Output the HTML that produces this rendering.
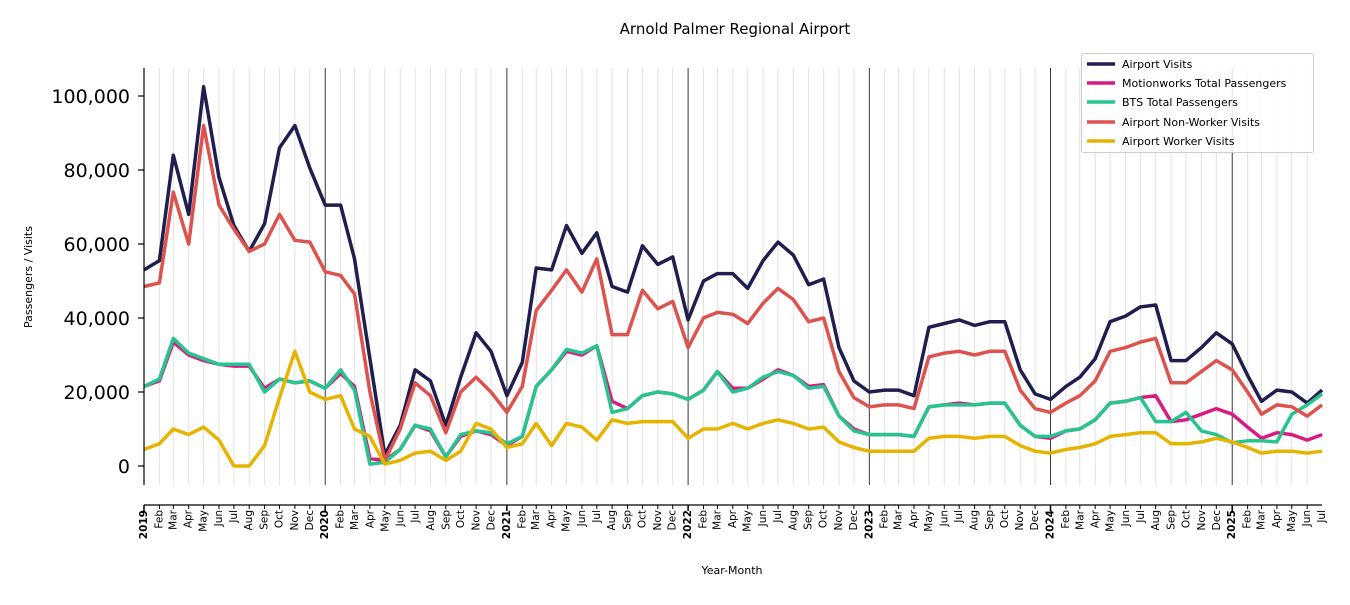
<!DOCTYPE html>
<html><head><meta charset="utf-8"><style>
body{margin:0;background:#fff;width:1350px;height:600px;overflow:hidden;font-family:"Liberation Sans","DejaVu Sans",sans-serif}
svg text{font-family:"DejaVu Sans","Liberation Sans",sans-serif}
.m{font-size:10.5px}
.y{font-size:10.5px;font-weight:bold}
</style></head><body>
<svg id="s" width="1350" height="600" viewBox="0 0 1350 600" xmlns="http://www.w3.org/2000/svg">
<g id="grid"></g>
<g id="lines" fill="none" stroke-width="3.5" stroke-linejoin="round"></g>
<text x="735" y="34" text-anchor="middle" font-size="15">Arnold Palmer Regional Airport</text>
<text transform="translate(32,277) rotate(-90)" text-anchor="middle" font-size="11">Passengers / Visits</text>
<text x="732" y="574" text-anchor="middle" font-size="11">Year-Month</text>
<line x1="144" y1="68" x2="144" y2="485" stroke="#000" stroke-width="1.2"/>
<line x1="144" y1="505" x2="1322" y2="505" stroke="#000" stroke-width="1.2"/>
<g font-size="19" text-anchor="end">
<text x="130" y="473">0</text><text x="130" y="399">20,000</text><text x="130" y="325">40,000</text><text x="130" y="251">60,000</text><text x="130" y="177">80,000</text><text x="130" y="103">100,000</text>
</g>
<g stroke="#000" stroke-width="1.2">
<line x1="138" y1="466" x2="144" y2="466"/><line x1="138" y1="392" x2="144" y2="392"/><line x1="138" y1="318" x2="144" y2="318"/><line x1="138" y1="244" x2="144" y2="244"/><line x1="138" y1="170" x2="144" y2="170"/><line x1="138" y1="96" x2="144" y2="96"/>
</g>
<g id="ticks" stroke="#000"></g>
<g text-anchor="end" dominant-baseline="middle">
<text class="y" transform="translate(144,510) rotate(-90)">2019</text><text class="m" transform="translate(159.4,510) rotate(-90)">Feb</text><text class="m" transform="translate(173.3,510) rotate(-90)">Mar</text><text class="m" transform="translate(188.7,510) rotate(-90)">Apr</text><text class="m" transform="translate(203.6,510) rotate(-90)">May</text><text class="m" transform="translate(219,510) rotate(-90)">Jun</text><text class="m" transform="translate(233.9,510) rotate(-90)">Jul</text><text class="m" transform="translate(249.2,510) rotate(-90)">Aug</text><text class="m" transform="translate(264.6,510) rotate(-90)">Sep</text><text class="m" transform="translate(279.5,510) rotate(-90)">Oct</text><text class="m" transform="translate(294.9,510) rotate(-90)">Nov</text><text class="m" transform="translate(309.8,510) rotate(-90)">Dec</text>
<text class="y" transform="translate(325.2,510) rotate(-90)">2020</text><text class="m" transform="translate(340.6,510) rotate(-90)">Feb</text><text class="m" transform="translate(355,510) rotate(-90)">Mar</text><text class="m" transform="translate(370.4,510) rotate(-90)">Apr</text><text class="m" transform="translate(385.3,510) rotate(-90)">May</text><text class="m" transform="translate(400.7,510) rotate(-90)">Jun</text><text class="m" transform="translate(415.6,510) rotate(-90)">Jul</text><text class="m" transform="translate(430.9,510) rotate(-90)">Aug</text><text class="m" transform="translate(446.3,510) rotate(-90)">Sep</text><text class="m" transform="translate(461.2,510) rotate(-90)">Oct</text><text class="m" transform="translate(476.6,510) rotate(-90)">Nov</text><text class="m" transform="translate(491.5,510) rotate(-90)">Dec</text>
<text class="y" transform="translate(506.9,510) rotate(-90)">2021</text><text class="m" transform="translate(522.3,510) rotate(-90)">Feb</text><text class="m" transform="translate(536.2,510) rotate(-90)">Mar</text><text class="m" transform="translate(551.6,510) rotate(-90)">Apr</text><text class="m" transform="translate(566.5,510) rotate(-90)">May</text><text class="m" transform="translate(581.9,510) rotate(-90)">Jun</text><text class="m" transform="translate(596.8,510) rotate(-90)">Jul</text><text class="m" transform="translate(612.1,510) rotate(-90)">Aug</text><text class="m" transform="translate(627.5,510) rotate(-90)">Sep</text><text class="m" transform="translate(642.4,510) rotate(-90)">Oct</text><text class="m" transform="translate(657.8,510) rotate(-90)">Nov</text><text class="m" transform="translate(672.7,510) rotate(-90)">Dec</text>
<text class="y" transform="translate(688.1,510) rotate(-90)">2022</text><text class="m" transform="translate(703.5,510) rotate(-90)">Feb</text><text class="m" transform="translate(717.4,510) rotate(-90)">Mar</text><text class="m" transform="translate(732.8,510) rotate(-90)">Apr</text><text class="m" transform="translate(747.7,510) rotate(-90)">May</text><text class="m" transform="translate(763.1,510) rotate(-90)">Jun</text><text class="m" transform="translate(778,510) rotate(-90)">Jul</text><text class="m" transform="translate(793.3,510) rotate(-90)">Aug</text><text class="m" transform="translate(808.7,510) rotate(-90)">Sep</text><text class="m" transform="translate(823.6,510) rotate(-90)">Oct</text><text class="m" transform="translate(839,510) rotate(-90)">Nov</text><text class="m" transform="translate(853.9,510) rotate(-90)">Dec</text>
<text class="y" transform="translate(869.3,510) rotate(-90)">2023</text><text class="m" transform="translate(884.7,510) rotate(-90)">Feb</text><text class="m" transform="translate(898.6,510) rotate(-90)">Mar</text><text class="m" transform="translate(914,510) rotate(-90)">Apr</text><text class="m" transform="translate(928.9,510) rotate(-90)">May</text><text class="m" transform="translate(944.3,510) rotate(-90)">Jun</text><text class="m" transform="translate(959.2,510) rotate(-90)">Jul</text><text class="m" transform="translate(974.5,510) rotate(-90)">Aug</text><text class="m" transform="translate(989.9,510) rotate(-90)">Sep</text><text class="m" transform="translate(1004.8,510) rotate(-90)">Oct</text><text class="m" transform="translate(1020.2,510) rotate(-90)">Nov</text><text class="m" transform="translate(1035.1,510) rotate(-90)">Dec</text>
<text class="y" transform="translate(1050.5,510) rotate(-90)">2024</text><text class="m" transform="translate(1065.9,510) rotate(-90)">Feb</text><text class="m" transform="translate(1080.3,510) rotate(-90)">Mar</text><text class="m" transform="translate(1095.7,510) rotate(-90)">Apr</text><text class="m" transform="translate(1110.6,510) rotate(-90)">May</text><text class="m" transform="translate(1126,510) rotate(-90)">Jun</text><text class="m" transform="translate(1140.9,510) rotate(-90)">Jul</text><text class="m" transform="translate(1156.2,510) rotate(-90)">Aug</text><text class="m" transform="translate(1171.6,510) rotate(-90)">Sep</text><text class="m" transform="translate(1186.5,510) rotate(-90)">Oct</text><text class="m" transform="translate(1201.9,510) rotate(-90)">Nov</text><text class="m" transform="translate(1216.8,510) rotate(-90)">Dec</text>
<text class="y" transform="translate(1232.2,510) rotate(-90)">2025</text><text class="m" transform="translate(1247.6,510) rotate(-90)">Feb</text><text class="m" transform="translate(1261.5,510) rotate(-90)">Mar</text><text class="m" transform="translate(1276.9,510) rotate(-90)">Apr</text><text class="m" transform="translate(1291.8,510) rotate(-90)">May</text><text class="m" transform="translate(1307.2,510) rotate(-90)">Jun</text><text class="m" transform="translate(1322.1,510) rotate(-90)">Jul</text>
</g>
<g>
<rect x="1081.5" y="53.5" width="232" height="99" rx="2" fill="#fff" fill-opacity="0.85" stroke="#ccc"/>
<g stroke-width="3.5">
<line x1="1087" y1="64" x2="1115" y2="64" stroke="#1f1f4f"/>
<line x1="1087" y1="83" x2="1115" y2="83" stroke="#d81b84"/>
<line x1="1087" y1="102" x2="1115" y2="102" stroke="#26c48f"/>
<line x1="1087" y1="122" x2="1115" y2="122" stroke="#de524e"/>
<line x1="1087" y1="141" x2="1115" y2="141" stroke="#e6b400"/>
</g>
<g font-size="11">
<text x="1122" y="68">Airport Visits</text>
<text x="1122" y="87">Motionworks Total Passengers</text>
<text x="1122" y="106">BTS Total Passengers</text>
<text x="1122" y="126">Airport Non-Worker Visits</text>
<text x="1122" y="145">Airport Worker Visits</text>
</g>
</g>
</svg>
<script>
(function(){
var NS="http://www.w3.org/2000/svg";
var base=[144,325.2,506.9,688.1,869.3,1050.5,1232.2];
var off=[0,15.4,29.3,44.7,59.6,75,89.9,105.2,120.6,135.5,150.9,165.8];
var xs=[];for(var i=0;i<79;i++){var y=Math.floor(i/12),m=i%12;xs.push(base[y]+off[m]);}
var g=document.getElementById('grid'),t=document.getElementById('ticks');
function ln(p,a){var e=document.createElementNS(NS,'line');for(var k in a)e.setAttribute(k,a[k]);p.appendChild(e);}
for(var i=0;i<78;i++){var x=xs[i];var yr=i%12==0;
 if(i>0)ln(g,{x1:x,y1:68,x2:x,y2:485,stroke:yr?'#222':'#e2e2e2','stroke-width':yr?0.9:1});
 ln(t,{x1:x,y1:505,x2:x,y2:yr?511:509,'stroke-width':yr?1.5:1});}
function Y(v){return 466-v*3.7;}
var S={
av:[53,55.5,84,68,102.5,78,65,58,65.5,86,92,80.5,70.5,70.5,56,29,3,11,26,23,11,24,36,31,19,28,53.5,53,65,57.5,63,48.5,47,59.5,54.5,56.5,39.5,50,52,52,48,55.5,60.5,57,49,50.5,32,23,20,20.5,20.5,19,37.5,38.5,39.5,38,39,39,26,19.5,18,21.5,24,29,39,40.5,43,43.5,28.5,28.5,32,36,33,24.5,17.5,20.5,20,17,20.5],
nw:[48.5,49.5,74,60,92,70.5,64,58,60,68,61,60.5,52.5,51.5,46.5,20,1.5,10,22.5,19,9,20,24,20,14.5,21.5,42,47.5,53,47,56,35.5,35.5,47.5,42.5,44.5,32,40,41.5,41,38.5,44,48,45,39,40,25.5,18.5,16,16.5,16.5,15.5,29.5,30.5,31,30,31,31,20.5,15.5,14.5,17,19,23,31,32,33.5,34.5,22.5,22.5,25.5,28.5,26,20,14,16.5,16,13.5,16.5],
mw:[21.5,23,33.5,30,28.5,27.5,27,27,21,23.5,22.5,23,21,25,21.5,2,1.5,4.5,11,9.5,2.5,8,9.5,8.5,5.5,8,21.5,26,31,30,32.5,17.5,15.5,19,20,19.5,18,20.5,25.5,21,21,23.5,26,24.5,21.5,22,13.5,10,8.5,8.5,8.5,8,16,16.5,17,16.5,17,17,11,8,7.5,9.5,10,12.5,17,17.5,18.5,19,12,12.5,14,15.5,14,10.5,7.5,9,8.5,7,8.5],
bts:[21.5,23.5,34.5,30.5,29,27.5,27.5,27.5,20,23.5,22.5,23,21,26,20.5,0.5,1,4.5,11,10,2.5,8.5,9.5,9,6,8,21.5,26,31.5,30.5,32.5,14.5,15.5,19,20,19.5,18,20.5,25.5,20,21,24,25.5,24.5,21,21.5,13.5,9.5,8.5,8.5,8.5,8,16,16.5,16.5,16.5,17,17,11,8,8,9.5,10,12.5,17,17.5,18.5,12,12,14.5,9.5,8.5,6.3,6.8,6.8,6.5,14,16.5,19.5],
wk:[4.5,6,10,8.5,10.5,7,0,0,5.5,18.5,31,20,18,19,10,8,0.5,1.5,3.5,4,1.5,4,11.5,10,5,6,11.5,5.5,11.5,10.5,7,12.5,11.5,12,12,12,7.5,10,10,11.5,10,11.5,12.5,11.5,10,10.5,6.5,5,4,4,4,4,7.5,8,8,7.5,8,8,5.5,4,3.5,4.5,5,6,8,8.5,9,9,6,6,6.5,7.5,6.5,5,3.5,4,4,3.5,4]};
var order=[['av','#1f1f4f'],['mw','#d81b84'],['bts','#26c48f'],['nw','#de524e'],['wk','#e6b400']];
var L=document.getElementById('lines');
order.forEach(function(o){var d=S[o[0]],p='';for(var i=0;i<d.length;i++)p+=(i?'L':'M')+xs[i].toFixed(1)+','+Y(d[i]).toFixed(1);
 var e=document.createElementNS(NS,'path');e.setAttribute('d',p);e.setAttribute('stroke',o[1]);L.appendChild(e);});
})();
</script>
</body></html>
